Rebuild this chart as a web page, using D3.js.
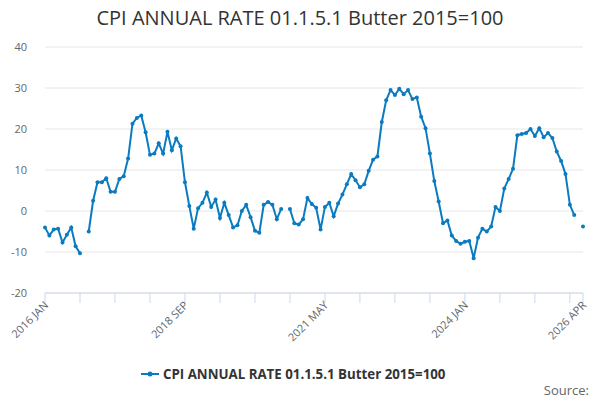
<!DOCTYPE html>
<html><head><meta charset="utf-8">
<script src="https://cdn.jsdelivr.net/npm/d3@7"></script>
<style>body{margin:0;font-family:"Open Sans",sans-serif;background:#fff}</style>
</head><body><div id="graf"></div>
<script>
// CPI annual rate, butter, monthly from 2016 JAN
const startYear = 2016
const values = [
  -4, -6, -4.5, -4.3, -7.7, -5.8, -4, -8.6, -10.3, null, -5, 2.5,
  7, 7, 8, 4.7, 4.7, 7.8, 8.5, 12.8, 21.3, 22.7, 23.3, 19.2,
  13.7, 14, 16.5, 14, 19.3, 14.8, 17.7, 15.8, 7, 1.2, -4.3, 0.7,
  2, 4.5, 1, 2.8, -1.7, 2, -1, -4, -3.5, 0, 1.5, -1.5,
  -4.8, -5.3, 1.5, 2.2, 1.5, -2, 0.5, null, 0.5, -3, -3.3, -2,
  3.2, 1.7, 0.8, -4.5, 1, 2, -1.3, 1.8, 4, 6.5, 9, 7.5,
  5.8, 6.5, 9.8, 12.5, 13.3, 21.7, 27, 29.5, 28.3, 29.8, 28.5, 29.5,
  27.3, 27.7, 23, 20.2, 14, 7.3, 2.3, -3, -2.3, -6, -7.3, -8,
  -7.5, -7.3, -11.5, -6.5, -4.3, -5, -3.8, 1, 0, 5.5, 7.8, 10.3,
  18.5, 18.8, 19, 20, 18.3, 20.2, 18, 19, 17.8, 14.5, 12.2, 9,
  1.5, -1, null, -3.8
]
const months = ['JAN','FEB','MAR','APR','MAY','JUN','JUL','AUG','SEP','OCT','NOV','DEC']
const yTicks = [-20, -10, 0, 10, 20, 30, 40]
const labelIdx = [0, 32, 64, 96, 123]
const tickIdx = d3.range(0, 123, 8).concat([123])
const seriesName = 'CPI ANNUAL RATE 01.1.5.1 Butter 2015=100'
const color = '#0a7bc1'

const data = values.map((v, i) => ({ i, v }))
const lbl = i => `${startYear + Math.floor(i / 12)} ${months[i % 12]}`

const W = 600, H = 400
const svg = d3.select('#graf').append('svg').attr('width', W).attr('height', H)

const x = d3.scaleLinear().domain([0, values.length - 1]).range([45, 583])
const y = d3.scaleLinear().domain([-20, 40]).range([293, 47])

svg.append('text').attr('x', W / 2).attr('y', 25).attr('text-anchor', 'middle')
  .attr('font-size', 20).attr('fill', '#333').text('CPI ANNUAL RATE 01.1.5.1 Butter 2015=100')

// grid + y labels
svg.append('g').selectAll('line').data(yTicks).join('line')
  .attr('x1', 45).attr('x2', 583).attr('y1', d => y(d)).attr('y2', d => y(d))
  .attr('stroke', '#e6e6e6')
svg.append('g').selectAll('text').data(yTicks).join('text')
  .attr('x', 27).attr('y', d => y(d) + 4).attr('text-anchor', 'end')
  .attr('font-size', 11).attr('fill', '#666').text(d => d)

// x axis
svg.append('line').attr('x1', 45).attr('x2', 583).attr('y1', 293).attr('y2', 293).attr('stroke', '#ccd6eb')
svg.append('g').selectAll('line').data(tickIdx).join('line')
  .attr('x1', d => x(d)).attr('x2', d => x(d)).attr('y1', 293).attr('y2', 303).attr('stroke', '#ccd6eb')
svg.append('g').selectAll('text').data(labelIdx).join('text')
  .attr('transform', d => `translate(${x(d) + 4},${306}) rotate(-45)`)
  .attr('text-anchor', 'end').attr('font-size', 11).attr('fill', '#666').text(lbl)

const line = d3.line().defined(d => d.v !== null).x(d => x(d.i)).y(d => y(d.v))
svg.append('path').attr('d', line(data)).attr('fill', 'none')
  .attr('stroke', color).attr('stroke-width', 2)
svg.append('g').selectAll('circle').data(data.filter(d => d.v !== null)).join('circle')
  .attr('cx', d => x(d.i)).attr('cy', d => y(d.v)).attr('r', 2).attr('fill', color)

// legend
const lg = svg.append('g').attr('transform', 'translate(141,374)')
lg.append('line').attr('x1', 0).attr('x2', 18).attr('stroke', color).attr('stroke-width', 2)
lg.append('circle').attr('cx', 9).attr('r', 2.5).attr('fill', color)
lg.append('text').attr('x', 22).attr('y', 5).attr('font-size', 13.3).attr('font-weight', 'bold')
  .attr('fill', '#333').text(seriesName)

svg.append('text').attr('x', 589).attr('y', 395).attr('text-anchor', 'end')
  .attr('font-size', 13).attr('fill', '#666').text('Source:')
</script></body></html>
